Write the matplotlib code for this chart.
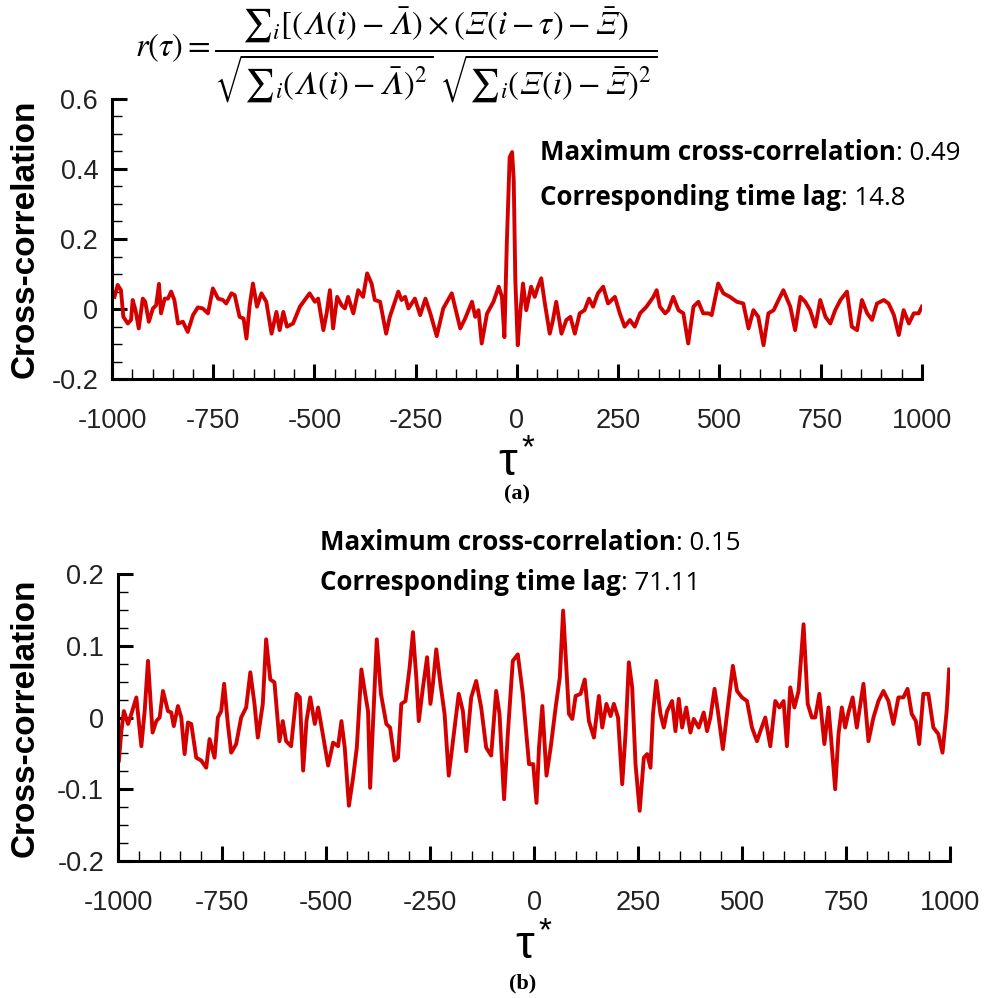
import matplotlib.pyplot as plt
from matplotlib.ticker import MultipleLocator, FuncFormatter

plt.rcParams['axes.unicode_minus'] = False
plt.rcParams['font.family'] = ['Liberation Sans', 'DejaVu Sans']
plt.rcParams['mathtext.fontset'] = 'stix'

# (a) cross-correlation
tau_a = [-994, -986, -978, -972, -961, -953, -949, -942, -934, -924, -918, -909, -899, -891,
         -884, -879, -870, -862, -854, -846, -837, -825, -813, -800, -788, -776, -763, -751,
         -738, -726, -718, -705, -697, -685, -675, -668, -660, -652, -642, -631, -619, -606,
         -594, -586, -577, -568, -553, -536, -512, -499, -491, -478, -470, -462, -454, -444,
         -433, -425, -417, -404, -392, -380, -370, -359, -351, -338, -323, -314, -293, -285,
         -276, -268, -252, -239, -226, -214, -198, -182, -161, -140, -128, -111, -103, -95,
         -87, -74, -58, -45, -37, -31, -25, -18, -12, -8, -4, 2, 8, 15, 23, 35, 44, 52, 60,
         69, 81, 89, 97, 110, 122, 132, 143, 155, 167, 178, 188, 200, 213, 225, 242, 254,
         266, 279, 291, 304, 320, 337, 345, 353, 366, 374, 386, 399, 411, 423, 436, 448,
         460, 473, 481, 497, 510, 526, 543, 559, 572, 584, 596, 609, 621, 634, 646, 658,
         675, 687, 700, 712, 724, 737, 749, 762, 774, 786, 799, 815, 827, 840, 852, 865,
         877, 889, 906, 918, 931, 943, 955, 968, 980, 992, 1000]
r_a = [0.035, 0.069, 0.054, -0.022, -0.041, -0.031, 0.026, -0.003, -0.055, 0.030, 0.021,
       -0.036, 0.002, 0.011, 0.072, -0.012, 0.030, 0.030, 0.050, 0.026, -0.041, -0.036,
       -0.065, -0.017, 0.005, 0.002, -0.012, 0.059, 0.030, 0.026, 0.016, 0.045, 0.040,
       -0.022, -0.027, -0.084, 0.011, 0.073, 0.007, 0.045, 0.021, -0.070, -0.008, -0.060,
       -0.008, -0.050, -0.041, 0.007, 0.045, 0.021, 0.030, -0.060, -0.012, 0.054, -0.055,
       0.035, 0.011, 0.002, 0.035, -0.012, 0.054, 0.035, 0.102, 0.073, 0.026, 0.021,
       -0.070, -0.022, 0.050, 0.026, 0.035, 0.002, 0.030, -0.017, 0.030, -0.012, -0.077,
       0.002, 0.045, -0.055, -0.027, 0.021, -0.022, -0.003, -0.098, -0.013, 0.021, 0.064,
       0.035, -0.080, 0.188, 0.433, 0.448, 0.371, 0.083, -0.103, -0.012, 0.073, -0.003,
       0.064, 0.035, 0.064, 0.088, 0.016, -0.070, -0.031, 0.021, -0.070, -0.031, -0.022,
       -0.070, -0.012, -0.003, 0.030, 0.007, 0.045, 0.064, 0.016, 0.035, -0.012, -0.050,
       -0.031, -0.050, -0.012, 0.007, 0.035, 0.054, 0.007, -0.012, -0.003, 0.035, -0.003,
       -0.012, -0.098, 0.007, 0.021, -0.012, -0.012, -0.017, 0.073, 0.045, 0.035, 0.021,
       0.016, -0.055, -0.003, -0.022, -0.103, -0.012, -0.003, 0.026, 0.054, 0.007, -0.060,
       0.035, 0.021, -0.003, -0.050, 0.026, -0.022, -0.041, -0.003, 0.026, 0.050, -0.050,
       -0.060, 0.026, -0.012, -0.031, 0.016, 0.026, 0.016, -0.017, -0.074, -0.003, -0.041,
       -0.012, -0.012, 0.007]

# (b) cross-correlation
tau_b = [-998, -992, -986, -976, -968, -956, -944, -936, -928, -917, -908, -900, -892, -880,
         -872, -866, -856, -848, -840, -832, -824, -812, -800, -788, -780, -768, -760, -752,
         -745, -736, -728, -716, -704, -692, -682, -672, -664, -652, -644, -634, -624, -612,
         -604, -596, -584, -571, -563, -555, -547, -538, -527, -519, -509, -495, -483, -471,
         -463, -455, -445, -435, -426, -415, -407, -399, -394, -386, -378, -368, -355, -346,
         -335, -327, -319, -309, -299, -291, -283, -277, -267, -257, -249, -243, -235, -225,
         -215, -205, -195, -181, -171, -163, -151, -139, -127, -115, -103, -91, -83, -72,
         -63, -51, -39, -27, -12, -2, 6, 12, 20, 30, 40, 52, 62, 70, 76, 84, 92, 100, 112,
         122, 132, 144, 156, 164, 174, 184, 192, 202, 212, 220, 228, 236, 244, 254, 264,
         272, 280, 286, 294, 304, 312, 320, 332, 340, 348, 356, 366, 376, 384, 396, 408,
         416, 424, 434, 442, 454, 464, 478, 488, 500, 512, 524, 536, 546, 556, 568, 580,
         590, 600, 608, 616, 626, 636, 648, 658, 668, 676, 686, 698, 708, 716, 724, 732,
         740, 748, 756, 766, 776, 792, 804, 816, 828, 840, 852, 864, 876, 888, 898, 908,
         918, 926, 936, 948, 960, 972, 982, 992, 998]
r_b = [-0.060, -0.019, 0.009, -0.009, 0.005, 0.028, -0.040, 0.009, 0.079, -0.021, -0.005,
       0.000, 0.037, 0.009, 0.007, -0.012, 0.016, 0.000, -0.051, -0.007, -0.009, -0.056,
       -0.060, -0.070, -0.030, -0.056, 0.000, 0.009, 0.047, -0.009, -0.049, -0.037, 0.000,
       0.014, 0.063, 0.019, -0.028, 0.019, 0.109, 0.053, 0.049, -0.033, -0.005, -0.033,
       -0.040, 0.033, 0.028, -0.074, -0.005, 0.028, -0.009, 0.014, -0.019, -0.067, -0.035,
       -0.040, -0.005, -0.042, -0.123, -0.084, -0.042, 0.067, 0.037, 0.009, -0.098, 0.005,
       0.109, 0.033, -0.009, -0.014, -0.060, -0.056, 0.019, 0.023, 0.070, 0.119, 0.056,
       -0.005, 0.042, 0.084, 0.019, 0.047, 0.095, 0.047, 0.005, -0.081, -0.033, 0.033,
       0.009, -0.047, 0.028, 0.051, 0.014, -0.042, -0.053, 0.037, 0.005, -0.114, -0.023,
       0.079, 0.088, 0.033, -0.065, -0.065, -0.119, -0.042, 0.016, -0.081, -0.042, 0.014,
       0.056, 0.149, 0.088, 0.005, -0.002, 0.030, 0.033, 0.053, -0.005, -0.028, 0.030,
       -0.014, 0.019, 0.002, 0.019, 0.000, -0.093, -0.023, 0.077, 0.042, -0.065, -0.130,
       -0.056, -0.051, -0.070, 0.005, 0.051, 0.005, -0.014, 0.009, 0.023, -0.019, 0.026,
       -0.014, 0.014, -0.021, -0.002, -0.014, 0.007, -0.019, 0.000, 0.040, 0.009, -0.044,
       0.005, 0.072, 0.037, 0.028, 0.023, -0.014, -0.033, -0.016, 0.000, -0.040, 0.023,
       0.014, 0.023, -0.040, 0.042, 0.014, 0.037, 0.130, 0.019, 0.000, 0.000, 0.033,
       -0.037, 0.014, -0.042, -0.100, -0.023, 0.014, -0.014, 0.007, 0.028, -0.014, 0.047,
       -0.033, 0.000, 0.023, 0.037, 0.023, -0.009, 0.028, 0.028, 0.040, 0.005, -0.005,
       -0.037, 0.033, 0.033, -0.014, -0.023, -0.049, 0.009, 0.067]

xticks = [-1000, -750, -500, -250, 0, 250, 500, 750, 1000]
line_color = '#d40000'


def fmt(v, pos):
    if abs(v) < 1e-9:
        return '0'
    return '%g' % v


def style_axes(ax, ymin, ymax):
    ax.set_xlim(-1000, 1000)
    ax.set_ylim(ymin, ymax)
    for side in ['top', 'right']:
        ax.spines[side].set_visible(False)
    for side in ['left', 'bottom']:
        ax.spines[side].set_linewidth(2.2)
    ax.set_xticks(xticks)
    ax.xaxis.set_minor_locator(MultipleLocator(50))
    ax.yaxis.set_major_locator(MultipleLocator(0.1 if ymax < 0.3 else 0.2))
    ax.yaxis.set_minor_locator(MultipleLocator(0.025 if ymax < 0.3 else 0.05))
    ax.yaxis.set_major_formatter(FuncFormatter(fmt))
    ax.tick_params(which='major', direction='in', length=11, width=2.2,
                   labelsize=19.5, labelcolor='#222222')
    ax.tick_params(which='minor', direction='in', length=7, width=1.0)
    ax.tick_params(axis='x', which='major', pad=21)
    ax.tick_params(axis='y', which='major', pad=10)
    ax.set_ylabel('Cross-correlation', fontsize=24, fontweight='bold')
    ax.set_xlabel(r'$\mathregular{\tau^*}$', fontsize=34)


def two_part(fig, x, y, bold, rest, size):
    t = fig.text(x, y, bold, fontsize=size, fontweight='bold', family='Open Sans',
                 va='baseline')
    fig.canvas.draw()
    bb = t.get_window_extent()
    fig.text(bb.x1 / fig.bbox.width, y, rest, fontsize=size, family='Open Sans',
             va='baseline')


fig = plt.figure(figsize=(9.87, 9.98), dpi=100)

ax_a = fig.add_axes([0.1135, 0.620, 0.8205, 0.281])
ax_a.plot(tau_a, r_a, color=line_color, lw=2.8)
style_axes(ax_a, -0.2, 0.6)
ax_a.yaxis.set_label_coords(-0.088, 0.5)
ax_a.xaxis.set_label_coords(0.5, -0.22)

ax_b = fig.add_axes([0.1196, 0.1373, 0.8429, 0.2875])
ax_b.plot(tau_b, r_b, color=line_color, lw=2.8)
style_axes(ax_b, -0.2, 0.2)
ax_b.yaxis.set_label_coords(-0.093, 0.5)
ax_b.xaxis.set_label_coords(0.5, -0.22)

L = '\U0001D6EC'
X = '\U0001D6EF'
formula = (r'$r(\tau) = \dfrac{{\sum}_i[(\mathrm{%s}(i) - \bar{\mathrm{%s}}) \times '
           r'(\mathrm{%s}(i - \tau) - \bar{\mathrm{%s}})}'
           r'{\sqrt{{\sum}_i(\mathrm{%s}(i) - \bar{\mathrm{%s}})^2}\ '
           r'\sqrt{{\sum}_i(\mathrm{%s}(i) - \bar{\mathrm{%s}})^2}}$') % (L, L, X, X, L, L, X, X)
fig.text(0.137, 0.945, formula, fontsize=23.5, va='center')

two_part(fig, 0.547, 0.8397, 'Maximum cross-correlation', ': 0.49', 18.6)
two_part(fig, 0.547, 0.7946, 'Corresponding time lag', ': 14.8', 18.6)
two_part(fig, 0.324, 0.449, 'Maximum cross-correlation', ': 0.15', 18.6)
two_part(fig, 0.324, 0.409, 'Corresponding time lag', ': 71.11', 18.6)

fig.text(0.524, 0.505, '(a)', fontsize=16, fontweight='bold', family='Liberation Serif',
         ha='center', va='center')
fig.text(0.530, 0.015, '(b)', fontsize=16, fontweight='bold', family='Liberation Serif',
         ha='center', va='center')

fig.savefig('out.png', dpi=100)
